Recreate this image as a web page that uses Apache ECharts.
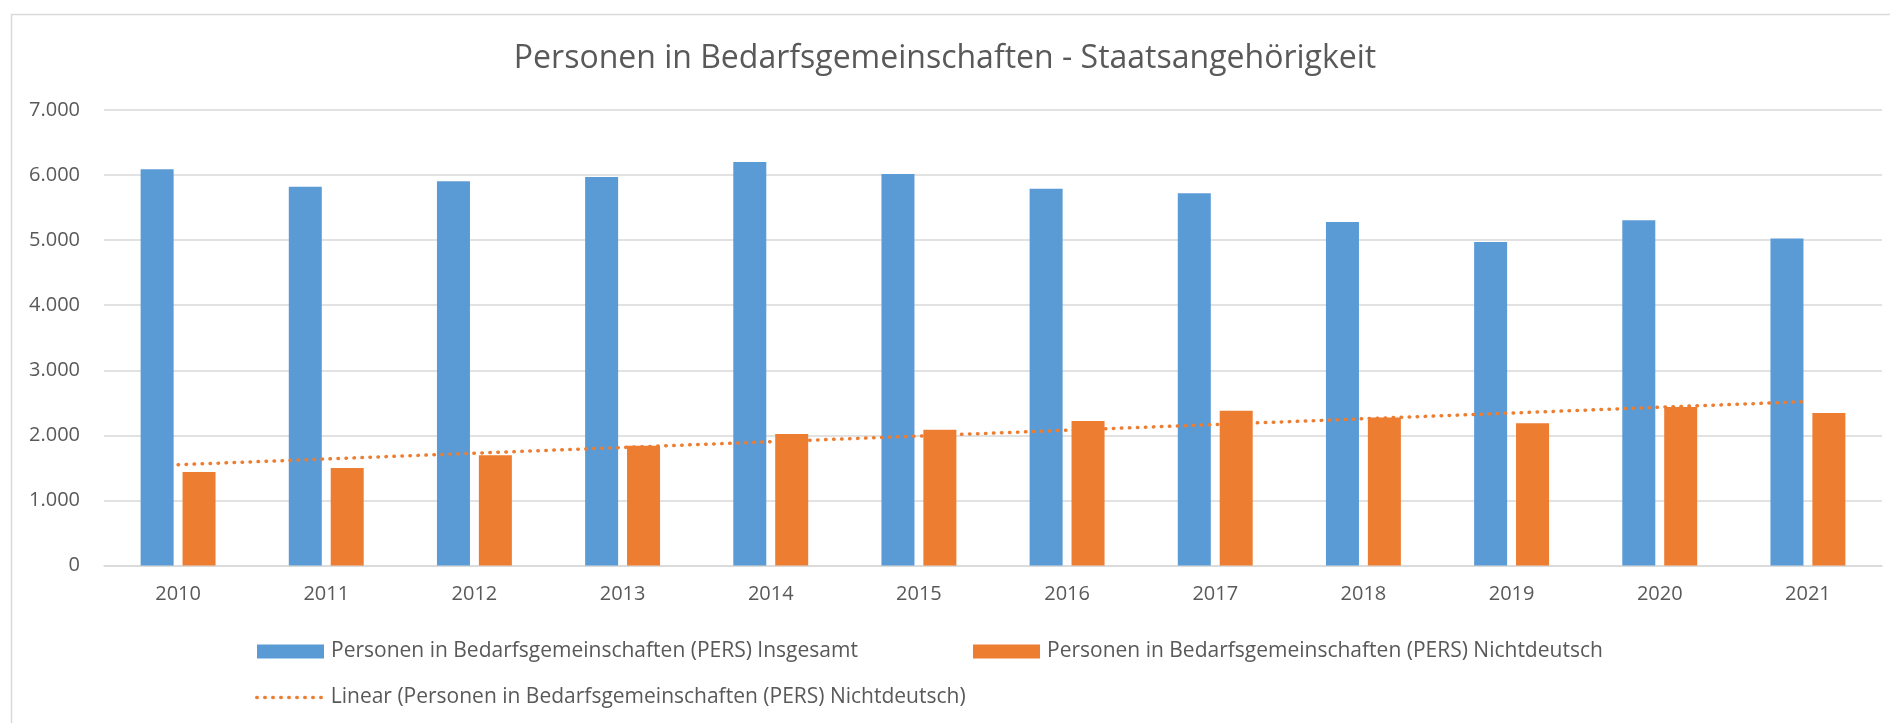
<!DOCTYPE html>
<html>
<head>
<meta charset="utf-8">
<script src="https://cdn.jsdelivr.net/npm/echarts@6/dist/echarts.min.js"></script>
<style>
  html, body { margin: 0; padding: 0; background: #fff; }
  #chart { width: 1890px; height: 723px; }
</style>
</head>
<body>
<div id="chart"></div>
<script>
// Jahre
const years = ["2010", "2011", "2012", "2013", "2014", "2015", "2016", "2017", "2018", "2019", "2020", "2021"];
// Personen in Bedarfsgemeinschaften (PERS) Insgesamt
const insgesamt = [6090, 5820, 5905, 5970, 6200, 6015, 5790, 5720, 5280, 4970, 5305, 5025];
// Personen in Bedarfsgemeinschaften (PERS) Nichtdeutsch
const nichtdeutsch = [1435, 1500, 1695, 1840, 2020, 2085, 2220, 2378, 2275, 2185, 2435, 2345];
const yTicks = [0, 1000, 2000, 3000, 4000, 5000, 6000, 7000];

const nameAll = "Personen in Bedarfsgemeinschaften (PERS) Insgesamt";
const nameNd = "Personen in Bedarfsgemeinschaften (PERS) Nichtdeutsch";
const nameTrend = "Linear (Personen in Bedarfsgemeinschaften (PERS) Nichtdeutsch)";

// lineare Trendlinie (kleinste Quadrate) aus den Nichtdeutsch-Werten
function linearTrend(arr) {
    const n = arr.length;
    let sx = 0, sy = 0, sxy = 0, sxx = 0;
    arr.forEach((y, i) => {
        const x = i + 1;
        sx += x; sy += y; sxy += x * y; sxx += x * x;
    });
    const b = (n * sxy - sx * sy) / (n * sxx - sx * sx);
    const a = (sy - b * sx) / n;
    return arr.map((_, i) => Math.round(a + b * (i + 1)));
}
const trend = linearTrend(nichtdeutsch);

function fmt(v) {
    return String(v).replace(/\B(?=(\d{3})+(?!\d))/g, ".");
}

const font = "Open Sans";
const textColor = "#595959";
const dotted = { color: "#ED7D31", width: 3.5, type: [0.5, 7.5], cap: "round" };

const chart = echarts.init(document.getElementById("chart"));
const legendText = { color: textColor, fontSize: 21, fontFamily: font, padding: [0, 0, 0, 2] };

const option = {
    backgroundColor: "#fff",
    animation: false,
    title: {
        text: "Personen in Bedarfsgemeinschaften - Staatsangehörigkeit",
        left: "center",
        top: 38,
        textStyle: { color: textColor, fontSize: 32, fontWeight: "normal", fontFamily: font },
    },
    graphic: [
        {
            type: "rect",
            left: 9, top: 12,
            shape: { width: 1900, height: 800 },
            style: { fill: "none", stroke: "#d9d9d9", lineWidth: 1.5 },
            silent: true,
        },
    ],
    legend: [
        {
            data: [nameAll], left: 252, top: 636, icon: "rect",
            itemWidth: 67, itemHeight: 14, textStyle: legendText,
        },
        {
            data: [nameNd], left: 968, top: 636, icon: "rect",
            itemWidth: 67, itemHeight: 14, textStyle: legendText,
        },
        {
            data: [{ name: nameTrend, itemStyle: { opacity: 0 } }], left: 250, top: 682,
            itemWidth: 67, itemHeight: 14, textStyle: legendText,
            lineStyle: dotted,
        },
    ],
    grid: { left: 104, right: 8, top: 110, bottom: 157.5, containLabel: false },
    xAxis: {
        type: "category",
        data: years,
        axisLine: { show: true, lineStyle: { color: "#d9d9d9", width: 1.5 } },
        axisTick: { show: false },
        axisLabel: { color: textColor, fontSize: 20, fontFamily: font, margin: 19 },
    },
    yAxis: {
        type: "value",
        min: yTicks[0],
        max: yTicks[yTicks.length - 1],
        interval: 1000,
        axisLine: { show: false },
        axisTick: { show: false },
        axisLabel: { color: textColor, fontSize: 20, fontFamily: font, margin: 24, formatter: fmt },
        splitLine: { lineStyle: { color: "#d9d9d9", width: 1.5 } },
    },
    series: [
        {
            name: nameAll,
            type: "bar",
            data: insgesamt,
            barWidth: 33,
            barGap: "27%",
            itemStyle: { color: "#5B9BD5" },
        },
        {
            name: nameNd,
            type: "bar",
            data: nichtdeutsch,
            barWidth: 33,
            barGap: "27%",
            itemStyle: { color: "#ED7D31" },
        },
        {
            name: nameTrend,
            type: "line",
            data: trend,
            symbol: "none",
            z: 5,
            lineStyle: dotted,
            itemStyle: { color: "#ED7D31" },
        },
    ],
};
chart.setOption(option);
</script>
</body>
</html>
